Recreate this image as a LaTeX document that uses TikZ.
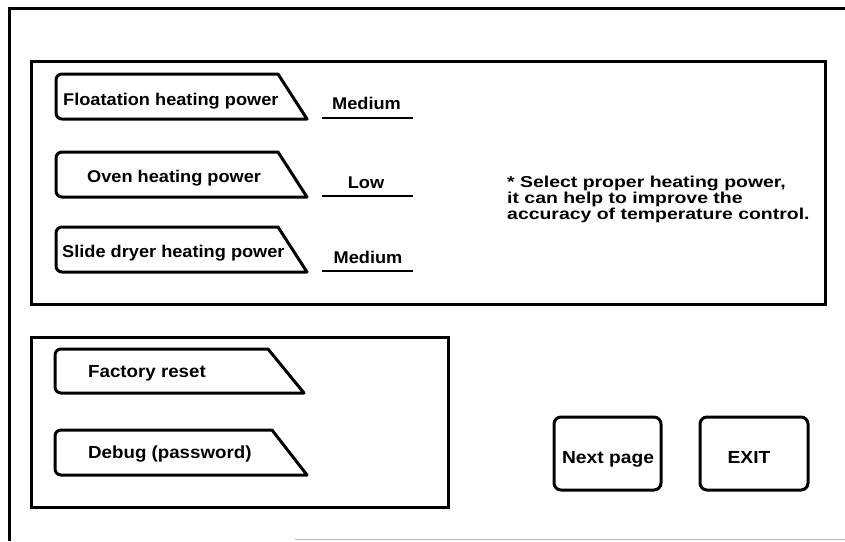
\documentclass[tikz,border=0pt]{standalone}
\usepackage{fontspec}
\setmainfont{Liberation Sans}
\usepackage{graphicx}
\newcommand\lblfont{\fontsize{17}{18}\selectfont\bfseries}
\newcommand\sx[1]{\scalebox{1.07}[1]{#1}}
\newcommand\btnfont{\fontsize{17.5}{19}\selectfont\bfseries}
\newcommand\bx[1]{\scalebox{1.1}[1]{#1}}
\newcommand\notefont{\fontsize{15.8}{17.5}\selectfont\bfseries}
\newcommand\nx[1]{\scalebox{1.23}[1]{#1}}
% tag shape: left x, top y, bottom y, top-right x, bottom-right x
\newcommand\tagbox[5]{%
  \draw[shp] (#5,#3) -- ({#1+6},#3) arc[start angle=90,end angle=180,radius=6]
    -- (#1,{#2+6}) arc[start angle=180,end angle=270,radius=6]
    -- (#4,#2) -- cycle;}
\begin{document}
\begin{tikzpicture}[x=1pt,y=-1pt,
  frame/.style={line width=3pt,black},
  shp/.style={line width=3pt,black,line join=round},
  uline/.style={line width=2.6pt,black},
  btn/.style={line width=3pt,black,rounded corners=7pt},
  txt/.style={inner sep=0pt,anchor=base west},
  ctxt/.style={inner sep=0pt,anchor=base}]
\useasboundingbox (0,0) rectangle (845,541);
\fill[white] (0,0) rectangle (845,541);
% outer frame
\draw[frame] (9,541) -- (9,8) -- (845,8);
\draw[gray!55,line width=1pt] (295,539.5) -- (845,539.5);
% panels
\draw[frame] (31,61) rectangle (825,304);
\draw[frame] (31,337) rectangle (448,507);
% heating power tags
\tagbox{56}{74}{119}{278}{307}
\tagbox{56}{152}{197}{278}{307}
\tagbox{56}{227}{272}{278}{307}
\node[txt,font=\lblfont] (tfloat) at (63,105) {\sx{Floatation heating power}};
\node[txt,font=\lblfont] (toven) at (87,182) {\sx{Oven heating power}};
\node[txt,font=\lblfont] (tslide) at (62,257) {\sx{Slide dryer heating power}};
% values
\draw[uline] (322,118) -- (413,118);
\draw[uline] (322,196) -- (413,196);
\draw[uline] (322,271) -- (413,271);
\node[ctxt,font=\lblfont] (vfloat) at (366.5,109) {\sx{Medium}};
\node[ctxt,font=\lblfont] (voven) at (366,188) {\sx{Low}};
\node[ctxt,font=\lblfont] (vslide) at (368,263) {\sx{Medium}};
% note
\node[txt,font=\notefont] (n1) at (507,187.5) {\nx{* Select proper heating power,}};
\node[txt,font=\notefont] (n2) at (507,203.5) {\nx{it can help to improve the}};
\node[txt,font=\notefont] (n3) at (507,219.5) {\nx{accuracy of temperature control.}};
% factory / debug
\tagbox{55}{349}{393}{268}{304}
\tagbox{55}{430}{475}{272}{307}
\node[txt,font=\btnfont] (tfac) at (88,377) {\sx{Factory reset}};
\node[txt,font=\btnfont] (tdbg) at (88,458) {\sx{Debug (password)}};
% buttons
\draw[btn] (554,417) rectangle (661,490);
\draw[btn] (700,417) rectangle (808,490);
\node[ctxt,font=\btnfont] (bnext) at (608,463) {\bx{Next page}};
\node[ctxt,font=\btnfont] (bexit) at (749,463) {\bx{EXIT}};
\end{tikzpicture}
\end{document}
